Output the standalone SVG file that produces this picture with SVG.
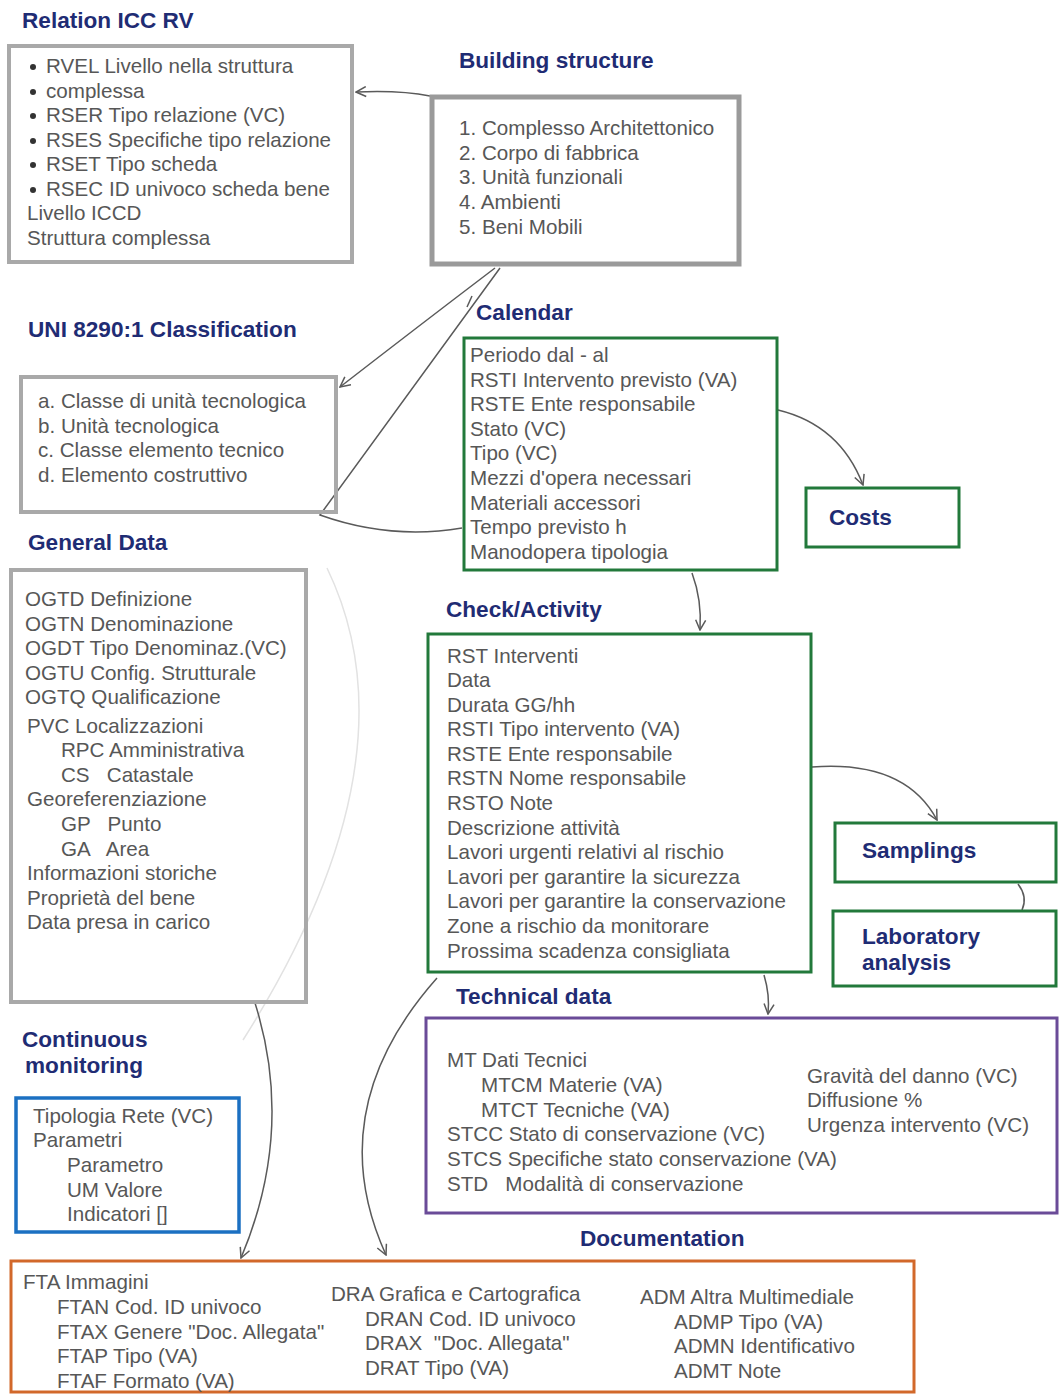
<svg xmlns="http://www.w3.org/2000/svg" width="1062" height="1395" viewBox="0 0 1062 1395">
<style>
.t{font-family:"Liberation Sans",Arial,sans-serif;font-size:20.6px;fill:#575757;white-space:pre}
.h{font-family:"Liberation Sans",Arial,sans-serif;font-size:22.6px;font-weight:bold;fill:#1f2c74}
.gray{fill:none;stroke:#a9a9a9;stroke-width:4}
.green{fill:none;stroke:#22793b;stroke-width:3}
.purple{fill:none;stroke:#6a4b98;stroke-width:3}
.blue{fill:none;stroke:#1b70c2;stroke-width:3.5}
.orange{fill:none;stroke:#d2682a;stroke-width:3}
.c{fill:none;stroke:#5a5a5a;stroke-width:1.5}
</style>
<defs>
<marker id="ah" viewBox="0 0 12 12" refX="11" refY="6" markerWidth="12" markerHeight="12" markerUnits="userSpaceOnUse" orient="auto">
<path d="M1,1 L11,6 L1,11" fill="none" stroke="#5a5a5a" stroke-width="1.5"/>
</marker>
</defs>
<rect width="1062" height="1395" fill="#ffffff"/>

<g id="connectors">
<path class="c" d="M430,96 Q400,90 356,92" marker-end="url(#ah)"/>
<path class="c" d="M495,268 Q420,325 340,387" marker-end="url(#ah)"/>
<path class="c" d="M500,268 L320,515 Q390,540 462,528"/>
<path class="c" d="M467,307 L472,296"/>
<path class="c" d="M778,410 Q840,425 863,485" marker-end="url(#ah)"/>
<path class="c" d="M692,573 Q702,600 700,630" marker-end="url(#ah)"/>
<path class="c" d="M812,767 Q905,760 937,820" marker-end="url(#ah)"/>
<path class="c" d="M1018,884 Q1028,897 1022,910"/>
<path class="c" d="M764,975 Q770,995 768,1014" marker-end="url(#ah)"/>
<path fill="none" stroke="#e2e2e2" stroke-width="1.5" d="M327,568 Q420,760 243,1040"/>
<path class="c" d="M255,1003 Q295,1130 241,1258" marker-end="url(#ah)"/>
<path class="c" d="M437,978 Q320,1110 386,1255" marker-end="url(#ah)"/>
</g>

<g id="relation">
<text class="h" x="22" y="28">Relation ICC RV</text>
<rect class="gray" x="9" y="46" width="343" height="216"/>
<g fill="#333"><circle cx="33" cy="67" r="3"/><circle cx="33" cy="92" r="3"/><circle cx="33" cy="116" r="3"/><circle cx="33" cy="141" r="3"/><circle cx="33" cy="165" r="3"/><circle cx="33" cy="190" r="3"/></g>
<text class="t" x="46" y="73">RVEL Livello nella struttura</text>
<text class="t" x="46" y="98">complessa</text>
<text class="t" x="46" y="122">RSER Tipo relazione (VC)</text>
<text class="t" x="46" y="147">RSES Specifiche tipo relazione</text>
<text class="t" x="46" y="171">RSET Tipo scheda</text>
<text class="t" x="46" y="196">RSEC ID univoco scheda bene</text>
<text class="t" x="27" y="220">Livello ICCD</text>
<text class="t" x="27" y="245">Struttura complessa</text>
</g>

<g id="building">
<text class="h" x="459" y="68">Building structure</text>
<rect x="432" y="97" width="307" height="167" fill="none" stroke="#9a9a9a" stroke-width="5"/>
<text class="t" x="459" y="135">1. Complesso Architettonico</text>
<text class="t" x="459" y="160">2. Corpo di fabbrica</text>
<text class="t" x="459" y="184">3. Unità funzionali</text>
<text class="t" x="459" y="209">4. Ambienti</text>
<text class="t" x="459" y="234">5. Beni Mobili</text>
</g>

<g id="uni">
<text class="h" x="28" y="337">UNI 8290:1 Classification</text>
<rect class="gray" x="21" y="377" width="315" height="135"/>
<text class="t" x="38" y="408">a. Classe di unità tecnologica</text>
<text class="t" x="38" y="433">b. Unità tecnologica</text>
<text class="t" x="38" y="457">c. Classe elemento tecnico</text>
<text class="t" x="38" y="482">d. Elemento costruttivo</text>
</g>

<g id="calendar">
<text class="h" x="476" y="320">Calendar</text>
<rect class="green" x="464" y="338" width="313" height="232"/>
<text class="t" x="470" y="362">Periodo dal - al</text>
<text class="t" x="470" y="387">RSTI Intervento previsto (VA)</text>
<text class="t" x="470" y="411">RSTE Ente responsabile</text>
<text class="t" x="470" y="436">Stato (VC)</text>
<text class="t" x="470" y="460">Tipo (VC)</text>
<text class="t" x="470" y="485">Mezzi d'opera necessari</text>
<text class="t" x="470" y="510">Materiali accessori</text>
<text class="t" x="470" y="534">Tempo previsto h</text>
<text class="t" x="470" y="559">Manodopera tipologia</text>
</g>

<g id="costs">
<rect class="green" x="806" y="488" width="153" height="59"/>
<text class="h" x="829" y="525">Costs</text>
</g>

<g id="general">
<text class="h" x="28" y="550">General Data</text>
<rect class="gray" x="11" y="570" width="295" height="432"/>
<text class="t" x="25" y="606">OGTD Definizione</text>
<text class="t" x="25" y="631">OGTN Denominazione</text>
<text class="t" x="25" y="655">OGDT Tipo Denominaz.(VC)</text>
<text class="t" x="25" y="680">OGTU Config. Strutturale</text>
<text class="t" x="25" y="704">OGTQ Qualificazione</text>
<text class="t" x="27" y="733">PVC Localizzazioni</text>
<text class="t" x="61" y="757">RPC Amministrativa</text>
<text class="t" x="61" y="782">CS   Catastale</text>
<text class="t" x="27" y="806">Georeferenziazione</text>
<text class="t" x="61" y="831">GP   Punto</text>
<text class="t" x="61" y="856">GA   Area</text>
<text class="t" x="27" y="880">Informazioni storiche</text>
<text class="t" x="27" y="905">Proprietà del bene</text>
<text class="t" x="27" y="929">Data presa in carico</text>
</g>

<g id="check">
<text class="h" x="446" y="617">Check/Activity</text>
<rect class="green" x="428" y="634" width="383" height="338"/>
<text class="t" x="447" y="663">RST Interventi</text>
<text class="t" x="447" y="687">Data</text>
<text class="t" x="447" y="712">Durata GG/hh</text>
<text class="t" x="447" y="736">RSTI Tipo intervento (VA)</text>
<text class="t" x="447" y="761">RSTE Ente responsabile</text>
<text class="t" x="447" y="785">RSTN Nome responsabile</text>
<text class="t" x="447" y="810">RSTO Note</text>
<text class="t" x="447" y="835">Descrizione attività</text>
<text class="t" x="447" y="859">Lavori urgenti relativi al rischio</text>
<text class="t" x="447" y="884">Lavori per garantire la sicurezza</text>
<text class="t" x="447" y="908">Lavori per garantire la conservazione</text>
<text class="t" x="447" y="933">Zone a rischio da monitorare</text>
<text class="t" x="447" y="958">Prossima scadenza consigliata</text>
</g>

<g id="samplings">
<rect class="green" x="835" y="823" width="221" height="59"/>
<text class="h" x="862" y="858">Samplings</text>
</g>

<g id="laboratory">
<rect class="green" x="833" y="911" width="223" height="75"/>
<text class="h" x="862" y="944">Laboratory</text>
<text class="h" x="862" y="970">analysis</text>
</g>

<g id="technical">
<text class="h" x="456" y="1004">Technical data</text>
<rect class="purple" x="426" y="1018" width="631" height="195"/>
<text class="t" x="447" y="1067">MT Dati Tecnici</text>
<text class="t" x="481" y="1092">MTCM Materie (VA)</text>
<text class="t" x="481" y="1117">MTCT Tecniche (VA)</text>
<text class="t" x="447" y="1141">STCC Stato di conservazione (VC)</text>
<text class="t" x="447" y="1166">STCS Specifiche stato conservazione (VA)</text>
<text class="t" x="447" y="1191">STD   Modalità di conservazione</text>
<text class="t" x="807" y="1083">Gravità del danno (VC)</text>
<text class="t" x="807" y="1107">Diffusione %</text>
<text class="t" x="807" y="1132">Urgenza intervento (VC)</text>
</g>

<g id="monitoring">
<text class="h" x="22" y="1047">Continuous</text>
<text class="h" x="25" y="1073">monitoring</text>
<rect class="blue" x="16" y="1098" width="223" height="134"/>
<text class="t" x="33" y="1123">Tipologia Rete (VC)</text>
<text class="t" x="33" y="1147">Parametri</text>
<text class="t" x="67" y="1172">Parametro</text>
<text class="t" x="67" y="1197">UM Valore</text>
<text class="t" x="67" y="1221">Indicatori []</text>
</g>

<g id="documentation">
<text class="h" x="580" y="1246">Documentation</text>
<rect class="orange" x="11" y="1261" width="903" height="131"/>
<text class="t" x="23" y="1289">FTA Immagini</text>
<text class="t" x="57" y="1314">FTAN Cod. ID univoco</text>
<text class="t" x="57" y="1339">FTAX Genere "Doc. Allegata"</text>
<text class="t" x="57" y="1363">FTAP Tipo (VA)</text>
<text class="t" x="57" y="1388">FTAF Formato (VA)</text>
<text class="t" x="331" y="1301">DRA Grafica e Cartografica</text>
<text class="t" x="365" y="1326">DRAN Cod. ID univoco</text>
<text class="t" x="365" y="1350">DRAX  "Doc. Allegata"</text>
<text class="t" x="365" y="1375">DRAT Tipo (VA)</text>
<text class="t" x="640" y="1304">ADM Altra Multimediale</text>
<text class="t" x="674" y="1329">ADMP Tipo (VA)</text>
<text class="t" x="674" y="1353">ADMN Identificativo</text>
<text class="t" x="674" y="1378">ADMT Note</text>
</g>
</svg>
